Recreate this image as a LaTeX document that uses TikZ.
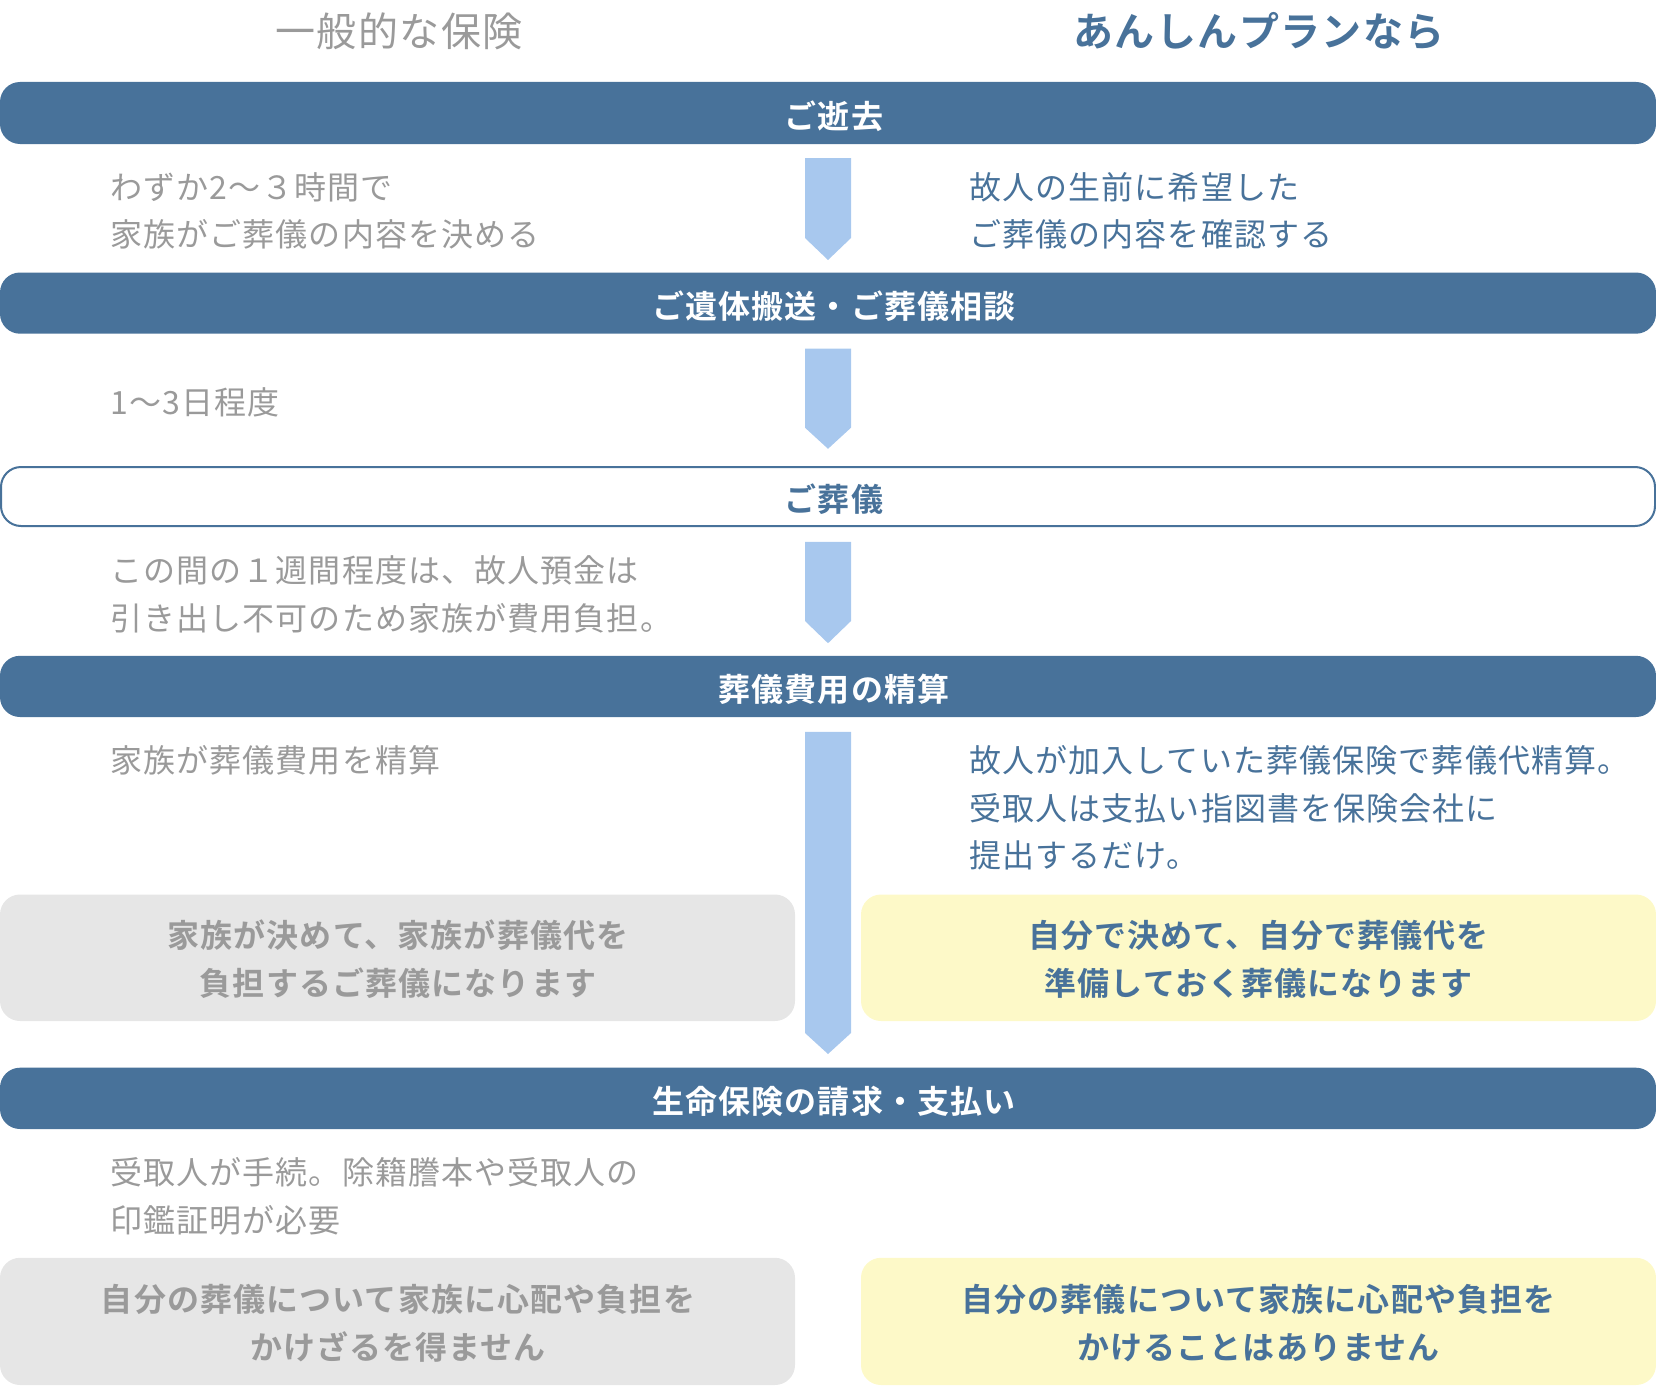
\documentclass[tikz,border=0pt]{standalone}
\usepackage{fontspec}
\setmainfont{Noto Sans CJK JP}[BoldFont={Noto Sans CJK JP Bold}, LetterSpace=3.5]
\definecolor{navy}{HTML}{48729A}
\definecolor{txtgray}{HTML}{9A9A9A}
\definecolor{arrowblue}{HTML}{A8C8EE}
\definecolor{boxgray}{HTML}{E6E6E6}
\definecolor{boxyellow}{HTML}{FDF9C8}
\begin{document}
\begin{tikzpicture}[x=1pt,y=-1pt,
  banner/.style={fill=navy, rounded corners=20pt},
  outlinebanner/.style={draw=navy, line width=2pt, fill=white, rounded corners=20pt},
  bannertext/.style={text=white, font=\fontsize{32}{32}\selectfont\bfseries, anchor=base, inner sep=0},
  outlinetext/.style={text=navy, font=\fontsize{32}{32}\selectfont\bfseries, anchor=base, inner sep=0},
  lefttxt/.style={text=txtgray, font=\fontsize{32}{32}\selectfont, anchor=base west, inner sep=0},
  righttxt/.style={text=navy, font=\fontsize{32}{32}\selectfont, anchor=base west, inner sep=0},
  graybox/.style={fill=boxgray, rounded corners=20pt},
  yellowbox/.style={fill=boxyellow, rounded corners=20pt},
  grayboxtxt/.style={text=txtgray, font=\fontsize{32}{32}\selectfont\bfseries, anchor=base, inner sep=0},
  yellowboxtxt/.style={text=navy, font=\fontsize{32}{32}\selectfont\bfseries, anchor=base, inner sep=0},
  flowarrow/.style={fill=arrowblue}
]
\useasboundingbox (0,0) rectangle (1656,1386);

% column titles
\node[text=txtgray, font=\fontsize{40}{40}\selectfont, anchor=base, inner sep=0] (t1) at (399,47) {一般的な保険};
\node[text=navy, font=\fontsize{40}{40}\selectfont\bfseries, anchor=base, inner sep=0] (t2) at (1259,47) {あんしんプランなら};

% banners
\fill[banner] (0,82) rectangle (1656,144);
\node[bannertext] (b1) at (834,128.2) {ご逝去};
\fill[banner] (0,272.5) rectangle (1656,333.7);
\node[bannertext] (b2) at (834,318.5) {ご遺体搬送・ご葬儀相談};
\draw[outlinebanner] (1,467) rectangle (1655,526);
\node[outlinetext] (b3) at (834,511.7) {ご葬儀};
\fill[banner] (0,655.8) rectangle (1656,717);
\node[bannertext] (b4) at (834,701.8) {葬儀費用の精算};
\fill[banner] (0,1067.7) rectangle (1656,1129);
\node[bannertext] (b5) at (834,1113.7) {生命保険の請求・支払い};

% flow arrows
\fill[flowarrow] (805,158) -- (851,158) -- (851,238) -- (828,260) -- (805,238) -- cycle;
\fill[flowarrow] (805,348.5) -- (851,348.5) -- (851,427.7) -- (828,448.8) -- (805,427.7) -- cycle;
\fill[flowarrow] (805,541.8) -- (851,541.8) -- (851,621) -- (828,643.2) -- (805,621) -- cycle;
\fill[flowarrow] (805,731.9) -- (851,731.9) -- (851,1033) -- (828,1054) -- (805,1033) -- cycle;

% left texts
\node[lefttxt] (l1) at (110,199.2) {わずか2〜３時間で};
\node[lefttxt] (l2) at (110,246.6) {家族がご葬儀の内容を決める};
\node[lefttxt] (l3) at (110,414.6) {1〜3日程度};
\node[lefttxt] (l4) at (110,582.5) {この間の１週間程度は、故人預金は};
\node[lefttxt] (l5) at (110,630) {引き出し不可のため家族が費用負担。};
\node[lefttxt] (l6) at (110,772.6) {家族が葬儀費用を精算};
\node[lefttxt] (l7) at (110,1184.5) {受取人が手続。除籍謄本や受取人の};
\node[lefttxt] (l8) at (110,1232) {印鑑証明が必要};

% right texts
\node[righttxt] (r1) at (969,199.2) {故人の生前に希望した};
\node[righttxt] (r2) at (969,246.6) {ご葬儀の内容を確認する};
\node[righttxt] (r3) at (969,772.6) {故人が加入していた葬儀保険で葬儀代精算。};
\node[righttxt] (r4) at (969,820.1) {受取人は支払い指図書を保険会社に};
\node[righttxt] (r5) at (969,867.6) {提出するだけ。};

% summary boxes
\fill[graybox] (0,894.5) rectangle (795,1021);
\node[grayboxtxt] (g1a) at (398,947.9) {家族が決めて、家族が葬儀代を};
\node[grayboxtxt] (g1b) at (398,995.4) {負担するご葬儀になります};
\fill[yellowbox] (861,894.5) rectangle (1656,1021);
\node[yellowboxtxt] (y1a) at (1258.5,947.9) {自分で決めて、自分で葬儀代を};
\node[yellowboxtxt] (y1b) at (1258.5,995.4) {準備しておく葬儀になります};

\fill[graybox] (0,1257.8) rectangle (795,1385);
\node[grayboxtxt] (g2a) at (398,1311.2) {自分の葬儀について家族に心配や負担を};
\node[grayboxtxt] (g2b) at (398,1359.8) {かけざるを得ません};
\fill[yellowbox] (861,1257.8) rectangle (1656,1385);
\node[yellowboxtxt] (y2a) at (1258.5,1311.2) {自分の葬儀について家族に心配や負担を};
\node[yellowboxtxt] (y2b) at (1258.5,1359.8) {かけることはありません};
\end{tikzpicture}
\end{document}
